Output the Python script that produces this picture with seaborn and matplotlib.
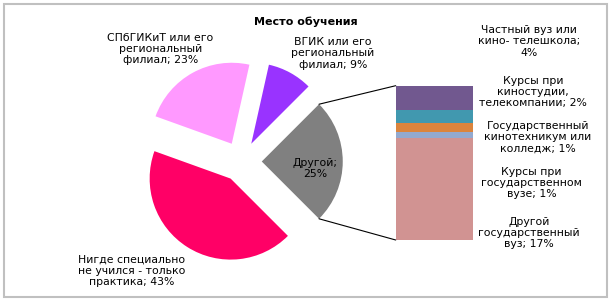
import matplotlib
matplotlib.use("Agg")
import matplotlib.pyplot as plt
from matplotlib.patches import Rectangle, ConnectionPatch
import numpy as np
import seaborn as sns

sns.set_theme(style="white")
plt.rcParams['font.family'] = ['DejaVu Sans']

# ---------------- data ----------------
title = "Место обучения"

pie_templates = [
    "Другой;\n{}%",
    "ВГИК или его\nрегиональный\nфилиал; {}%",
    "СПбГИКиТ или его\nрегиональный\nфилиал; {}%",
    "Нигде специально\nне учился - только\nпрактика; {}%",
]
pie_values = [25, 9, 23, 43]
pie_colors = ["#808080", "#9933FF", "#FF99FF", "#FF0066"]

bar_templates = [
    "Другой\nгосударственный\nвуз; {}%",
    "Курсы при\nгосударственном\nвузе; {}%",
    "Государственный\nкинотехникум или\nколледж; {}%",
    "Курсы при\nкиностудии,\nтелекомпании; {}%",
    "Частный вуз или\nкино- телешкола;\n{}%",
]
bar_values = [16.6, 0.9, 1.4, 2.2, 3.9]
bar_colors = ["#D19392", "#93A9CF", "#DB843D", "#4198AF", "#71588F"]

# ---------------- layout (pixels) ----------------
W, H = 612, 303
fig = plt.figure(figsize=(W / 100, H / 100), dpi=100)
ax = fig.add_axes([0, 0, 1, 1])

pie_center = (241.5, H - 161.5)
pie_radius = 81
explode_px = 0.25 * pie_radius
wedges, _ = ax.pie(pie_values, colors=pie_colors, startangle=-45,
                   counterclock=True, radius=pie_radius, center=pie_center,
                   explode=[explode_px] * len(pie_values),
                   wedgeprops=dict(linewidth=0))
ax.set_xlim(0, W)
ax.set_ylim(0, H)
ax.set_aspect("auto")
ax.axis("off")

# pie labels
pie_label_pos = [(315, 168.7), (333, 53.3), (160.5, 49), (132, 271)]
for tpl, v, (px, py) in zip(pie_templates, pie_values, pie_label_pos):
    ax.text(px, H - py, tpl.format(round(v)), ha="center", va="center",
            fontsize=7.8, color="black", linespacing=1.15)

# stacked bar (pie-of-bar)
bx0, bx1, by0, by1 = 395.7, 472.7, 85.7, 240
ax2 = fig.add_axes([bx0 / W, (H - by1) / H, (bx1 - bx0) / W, (by1 - by0) / H])
bottom = 0
for v, c in zip(bar_values, bar_colors):
    sns.barplot(x=["s"], y=[v], color=c, width=1, bottom=bottom, ax=ax2,
                saturation=1, linewidth=0, errorbar=None)
    bottom += v
ax2.set_xlim(-0.5, 0.5)
ax2.set_ylim(0, sum(bar_values))
ax2.axis("off")

bar_label_pos = [(528.7, 233), (531.7, 183), (537.8, 137), (533.2, 91.7), (529, 41.3)]
for tpl, v, (px, py) in zip(bar_templates, bar_values, bar_label_pos):
    ax.text(px, H - py, tpl.format(round(v)), ha="center", va="center",
            fontsize=7.8, color="black", linespacing=1.15)

# connector lines from the "other" slice to the bar
w0 = wedges[0]
cx, cy = w0.center
for theta, ybar in ((w0.theta2, sum(bar_values)), (w0.theta1, 0)):
    px = cx + w0.r * np.cos(np.radians(theta))
    py = cy + w0.r * np.sin(np.radians(theta))
    con = ConnectionPatch(xyA=(px, py), coordsA=ax.transData,
                          xyB=(-0.5, ybar), coordsB=ax2.transData,
                          color="black", linewidth=0.8)
    fig.add_artist(con)

# title
fig.text(306 / W, 1 - 21.7 / H, title, ha="center", va="center",
         fontsize=8, fontweight="bold", color="black")

# outer frame
ax.add_patch(Rectangle((4, H - 297), 603, 293, fill=False,
                       edgecolor="#C0C0C0", linewidth=1.5, clip_on=False))

fig.savefig("out.png", dpi=100)
